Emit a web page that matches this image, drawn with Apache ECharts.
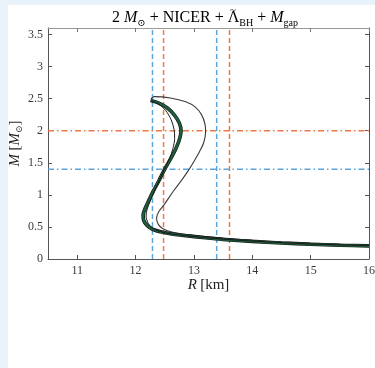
<!DOCTYPE html>
<html>
<head>
<meta charset="utf-8">
<script src="https://cdn.jsdelivr.net/npm/echarts@6.0.0/dist/echarts.min.js"></script>
<style>
  html, body { margin: 0; padding: 0; background: #e9f1f9; }
  #chart { position: absolute; left: 8px; top: 5px; width: 367px; height: 363px; background: #ffffff; }
</style>
</head>
<body>
<div id="chart"></div>
<script>
// axis ticks
const xTicks = [11, 12, 13, 14, 15, 16];
const yTicks = [0, 0.5, 1, 1.5, 2, 2.5, 3, 3.5];

// reference constraints (R in km, M in solar masses)
const vBlueR = [12.29, 13.39];
const vRedR = [12.48, 13.61];
const hRedM = 2.0;
const hBlueM = 1.4;

// M-R curves as [R, M]
const greenCurve = [
  [16.0, 0.205], [15.5, 0.215], [15.0, 0.23], [14.5, 0.25], [14.0, 0.275],
  [13.5, 0.305], [13.2, 0.33], [12.9, 0.36], [12.65, 0.385], [12.45, 0.42],
  [12.3, 0.46], [12.2, 0.52], [12.14, 0.6], [12.13, 0.68], [12.16, 0.78],
  [12.22, 0.9], [12.3, 1.05], [12.4, 1.22], [12.5, 1.4], [12.6, 1.56],
  [12.69, 1.72], [12.75, 1.86], [12.78, 2.0], [12.75, 2.12], [12.67, 2.24],
  [12.55, 2.35], [12.4, 2.43], [12.26, 2.47]
];
const innerCurve = [
  [12.26, 2.47], [12.4, 2.41], [12.52, 2.31], [12.61, 2.17], [12.66, 2.02],
  [12.67, 1.88], [12.64, 1.72], [12.58, 1.56], [12.5, 1.41], [12.42, 1.25],
  [12.33, 1.07], [12.25, 0.9], [12.2, 0.78], [12.18, 0.67], [12.21, 0.57],
  [12.28, 0.49], [12.42, 0.43], [12.62, 0.39], [12.9, 0.36], [13.3, 0.325],
  [14.0, 0.28], [15.0, 0.235], [16.0, 0.21]
];
const outerCurve = [
  [12.26, 2.49], [12.32, 2.53], [12.6, 2.51], [12.86, 2.45], [13.02, 2.37],
  [13.13, 2.25], [13.19, 2.1], [13.2, 1.98], [13.17, 1.82], [13.1, 1.68],
  [13.0, 1.52], [12.92, 1.4], [12.8, 1.24], [12.65, 1.06], [12.5, 0.86],
  [12.4, 0.74], [12.36, 0.64], [12.39, 0.54], [12.47, 0.47], [12.62, 0.42],
  [12.85, 0.385], [13.2, 0.35], [13.8, 0.305], [14.5, 0.265], [15.3, 0.235],
  [16.0, 0.215]
];

const X_MIN = 10.5, X_MAX = 16, Y_MIN = 0, Y_MAX = 3.6;
const BLUE = "#5ba4dc";
const RED = "#ec7a45";
const SERIF = "'Liberation Serif', 'DejaVu Serif', serif";

const chart = echarts.init(document.getElementById("chart"), null, { renderer: "canvas" });

const refLine = (data, color, dash) => ({
  type: "line",
  data,
  showSymbol: false,
  silent: true,
  animation: false,
  z: 1,
  lineStyle: { color, width: 1.5, type: dash }
});

const curve = (data, color, width, z) => ({
  type: "line",
  data,
  smooth: 0.3,
  showSymbol: false,
  silent: true,
  animation: false,
  z,
  lineStyle: { color, width }
});

const series = [];
vBlueR.forEach((r) => series.push(refLine([[r, Y_MIN], [r, Y_MAX]], BLUE, [5, 3])));
vRedR.forEach((r) => series.push(refLine([[r, Y_MIN], [r, Y_MAX]], RED, [5, 3])));
series.push(refLine([[X_MIN, hRedM], [X_MAX, hRedM]], RED, [6, 3, 1.5, 3]));
series.push(refLine([[X_MIN, hBlueM], [X_MAX, hBlueM]], BLUE, [6, 3, 1.5, 3]));
series.push(curve(outerCurve, "#3a3a3a", 1.1, 3));
series.push(curve(greenCurve, "#151515", 3.6, 4));
series.push(curve(greenCurve, "#1d5e3d", 2.4, 5));
series.push(curve(innerCurve, "#1a1a1a", 1, 6));

const tickLabel = { fontFamily: SERIF, fontSize: 12, color: "#3a3a3a" };
const rich = {
  i: { fontFamily: SERIF, fontStyle: "italic", fontSize: 15, color: "#222" },
  n: { fontFamily: SERIF, fontSize: 15, color: "#222" },
  s: { fontFamily: SERIF, fontSize: 9, color: "#222", verticalAlign: "bottom", lineHeight: 18 }
};

const option = {
  animation: false,
  grid: { left: 40, right: 6, top: 23, bottom: 109, outerBoundsMode: "none" },
  graphic: [
    {
      type: "text",
      left: 104,
      top: 5,
      style: {
        text: "{n|2 }{i|M}{s|⊙}{n| + NICER + Λ}{s|BH}{n| + }{i|M}{s|gap}",
        rich: {
          i: { fontFamily: SERIF, fontStyle: "italic", fontSize: 16, color: "#222", lineHeight: 19 },
          n: { fontFamily: SERIF, fontSize: 16, color: "#222", lineHeight: 19 },
          s: { fontFamily: SERIF, fontSize: 10, color: "#222", verticalAlign: "bottom", lineHeight: 21 }
        }
      }
    },
    {
      // tilde accent over the Lambda
      type: "text",
      left: 222,
      top: 0,
      style: { text: "~", fontFamily: SERIF, fontSize: 11, fill: "#222" }
    }
  ],
  xAxis: [
    {
      type: "value", min: X_MIN, max: X_MAX, position: "bottom",
      name: "{i|R} {n|[km]}", nameLocation: "middle", nameGap: 19, nameMoveOverlap: false,
      nameTextStyle: { rich },
      axisLine: { onZero: false, lineStyle: { color: "#555", width: 1 } },
      axisTick: { inside: true, length: 4, customValues: xTicks, lineStyle: { color: "#555" } },
      axisLabel: Object.assign({ customValues: xTicks, margin: 6 }, tickLabel),
      splitLine: { show: false }
    },
    {
      type: "value", min: X_MIN, max: X_MAX, position: "top",
      axisLine: { onZero: false, lineStyle: { color: "#999", width: 1 } },
      axisTick: { inside: true, length: 4, customValues: xTicks, lineStyle: { color: "#777" } },
      axisLabel: { show: false },
      splitLine: { show: false }
    }
  ],
  yAxis: [
    {
      type: "value", min: Y_MIN, max: Y_MAX, position: "left",
      name: "{i|M} {n|[}{i|M}{s|⊙}{n|]}", nameLocation: "middle", nameGap: 24, nameMoveOverlap: false,
      nameTextStyle: { rich },
      axisLine: { onZero: false, lineStyle: { color: "#555", width: 1 } },
      axisTick: { inside: true, length: 4, customValues: yTicks, lineStyle: { color: "#555" } },
      axisLabel: Object.assign({ customValues: yTicks, margin: 5 }, tickLabel),
      splitLine: { show: false }
    },
    {
      type: "value", min: Y_MIN, max: Y_MAX, position: "right",
      axisLine: { onZero: false, lineStyle: { color: "#555", width: 1 } },
      axisTick: { inside: true, length: 4, customValues: yTicks, lineStyle: { color: "#555" } },
      axisLabel: { show: false },
      splitLine: { show: false }
    }
  ],
  series
};

chart.setOption(option);
</script>
</body>
</html>
